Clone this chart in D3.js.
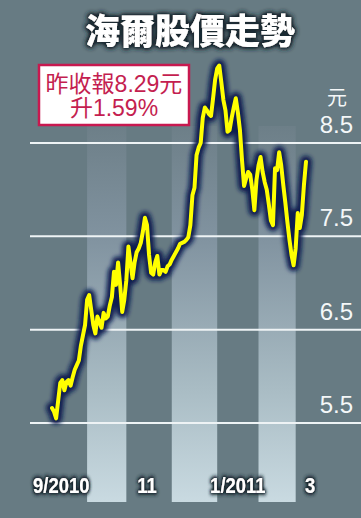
<!DOCTYPE html>
<html><head><meta charset="utf-8">
<script src="https://cdn.jsdelivr.net/npm/d3@7"></script>
<style>html,body{margin:0;padding:0;background:#677b83;}svg{display:block;}</style>
</head><body>
<script>
// ---- data ----
const title = "海爾股價走勢";
const noteLines = ["昨收報8.29元", "升1.59%"];
const unitLabel = "元";
// daily closing prices (trading-day index 0 = early Sep 2010)
const prices = [5.66,5.62,5.55,5.74,5.93,5.96,5.85,5.94,5.96,5.90,
5.99,6.07,6.12,6.17,6.33,6.44,6.55,6.82,6.87,6.71,
6.55,6.46,6.64,6.58,6.52,6.68,6.62,6.64,6.76,6.85,
7.12,6.98,7.22,6.98,6.69,6.82,7.03,7.39,7.22,7.05,
7.22,7.33,7.37,7.43,7.55,7.70,7.62,7.30,7.11,7.09,
7.22,7.29,7.09,7.14,7.14,7.12,7.18,7.20,7.25,7.29,
7.33,7.37,7.42,7.43,7.44,7.46,7.49,7.62,7.94,8.02,
8.37,8.45,8.50,8.77,8.88,8.85,8.81,8.79,8.98,9.18,
9.30,9.33,9.15,8.96,8.85,8.62,8.64,8.77,8.88,8.98,
8.83,8.64,8.32,8.04,8.12,8.19,8.16,8.00,7.78,8.10,
8.26,8.35,8.19,8.08,8.00,7.84,7.67,7.62,8.23,8.21,
8.40,8.26,8.05,7.86,7.65,7.46,7.30,7.19,7.37,7.75,
7.59,7.73,8.05,8.30];
// shaded months (trading-day index start, end)
const bandStart = [17, 58, 100];
const bandEnd = [36, 80, 118];
// month labels and their trading-day position
const monthLabels = ["9/2010", "11", "1/2011", "3"];
const monthPos = [4.5, 46, 90, 125];
const yTicks = [5.5, 6.5, 7.5, 8.5];

// ---- chart ----
const W = 361, H = 518;
const svg = d3.select("body").append("svg").attr("width", W).attr("height", H);
const defs = svg.append("defs");

const grad = defs.append("linearGradient").attr("id", "band").attr("x1", 0).attr("x2", 0).attr("y1", 0).attr("y2", 1);
grad.append("stop").attr("offset", "0%").attr("stop-color", "#6d7f88");
grad.append("stop").attr("offset", "30%").attr("stop-color", "#8193a0");
grad.append("stop").attr("offset", "70%").attr("stop-color", "#a9bcc4");
grad.append("stop").attr("offset", "100%").attr("stop-color", "#c9dae1");

function glow(id, color, sd, boost) {
  const f = defs.append("filter").attr("id", id).attr("x", "-20%").attr("y", "-40%").attr("width", "140%").attr("height", "180%");
  f.append("feMorphology").attr("in", "SourceAlpha").attr("operator", "dilate").attr("radius", 1).attr("result", "d");
  f.append("feGaussianBlur").attr("in", "d").attr("stdDeviation", sd).attr("result", "b");
  f.append("feFlood").attr("flood-color", color).attr("result", "c");
  f.append("feComposite").attr("in", "c").attr("in2", "b").attr("operator", "in").attr("result", "s");
  const ct = f.append("feComponentTransfer").attr("in", "s").attr("result", "s2");
  ct.append("feFuncA").attr("type", "linear").attr("slope", boost);
  const m = f.append("feMerge");
  m.append("feMergeNode").attr("in", "s2");
  m.append("feMergeNode").attr("in", "SourceGraphic");
}
glow("tglow", "#1c2b33", 2.4, 1.7);
glow("xglow", "#1c2b33", 2, 1.5);
const lb = defs.append("filter").attr("id", "lblur").attr("x", "-10%").attr("y", "-10%").attr("width", "120%").attr("height", "120%");
lb.append("feGaussianBlur").attr("stdDeviation", 2);

const x = d3.scaleLinear().domain([0, prices.length - 1]).range([52, 306]);
const y = d3.scaleLinear().domain([5.5, 8.5]).range([423, 143]);

// bands
svg.append("g").selectAll("rect").data(bandStart).join("rect")
  .attr("x", (d) => x(d))
  .attr("width", (d, i) => x(bandEnd[i]) - x(d))
  .attr("y", 126).attr("height", 502 - 126)
  .attr("fill", "url(#band)");

// grid lines
svg.append("g").selectAll("line").data(yTicks).join("line")
  .attr("x1", 30).attr("x2", W)
  .attr("y1", (d) => y(d)).attr("y2", (d) => y(d))
  .attr("stroke", "#eef3f5").attr("stroke-width", 2);

// y labels
svg.append("g").selectAll("text").data(yTicks).join("text")
  .attr("x", 353).attr("y", (d) => y(d) - 10)
  .attr("text-anchor", "end")
  .attr("font-family", "Liberation Sans, Arial, sans-serif")
  .attr("font-size", 24).attr("fill", "#f4f7f8")
  .text((d) => d3.format(".1f")(d));
svg.append("text").attr("x", 337).attr("y", 105).attr("text-anchor", "middle")
  .attr("font-family", "Noto Sans CJK TC, sans-serif").attr("font-size", 20)
  .attr("fill", "#f4f7f8").text(unitLabel);

// price line
const line = d3.line().x((d, i) => x(i)).y((d) => y(d));
svg.append("path").datum(prices).attr("d", line)
  .attr("fill", "none").attr("stroke", "#0a1d50").attr("stroke-width", 12)
  .attr("stroke-linejoin", "round").attr("stroke-linecap", "round")
  .attr("filter", "url(#lblur)");
svg.append("path").datum(prices).attr("d", line)
  .attr("fill", "none").attr("stroke", "#ffff00").attr("stroke-width", 4)
  .attr("stroke-linejoin", "round").attr("stroke-linecap", "round");

// x labels (condensed bold)
svg.append("g").selectAll("text").data(monthLabels).join("text")
  .attr("transform", (d, i) => `translate(${x(monthPos[i])},493) scale(0.84,1)`)
  .attr("text-anchor", "middle")
  .attr("font-family", "Liberation Sans, Arial, sans-serif")
  .attr("font-weight", "bold").attr("font-size", 22).attr("fill", "#ffffff")
  .attr("filter", "url(#xglow)")
  .text((d) => d);

// title
svg.append("text").attr("x", 190).attr("y", 44).attr("text-anchor", "middle")
  .attr("font-family", "Noto Sans CJK TC, sans-serif").attr("font-weight", 900)
  .attr("font-size", 35).attr("fill", "#ffffff")
  .attr("filter", "url(#tglow)")
  .text(title);

// note box
svg.append("rect").attr("x", 39).attr("y", 65).attr("width", 150).attr("height", 60)
  .attr("fill", "#ffffff").attr("stroke", "#c8184f").attr("stroke-width", 2.5);
svg.append("g").selectAll("text").data(noteLines).join("text")
  .attr("x", 114).attr("y", (d, i) => 92 + i * 24)
  .attr("text-anchor", "middle")
  .attr("font-family", "Liberation Sans, Noto Sans CJK TC, sans-serif")
  .attr("font-size", 23).attr("fill", "#c41e50")
  .text((d) => d);
</script>
</body></html>
